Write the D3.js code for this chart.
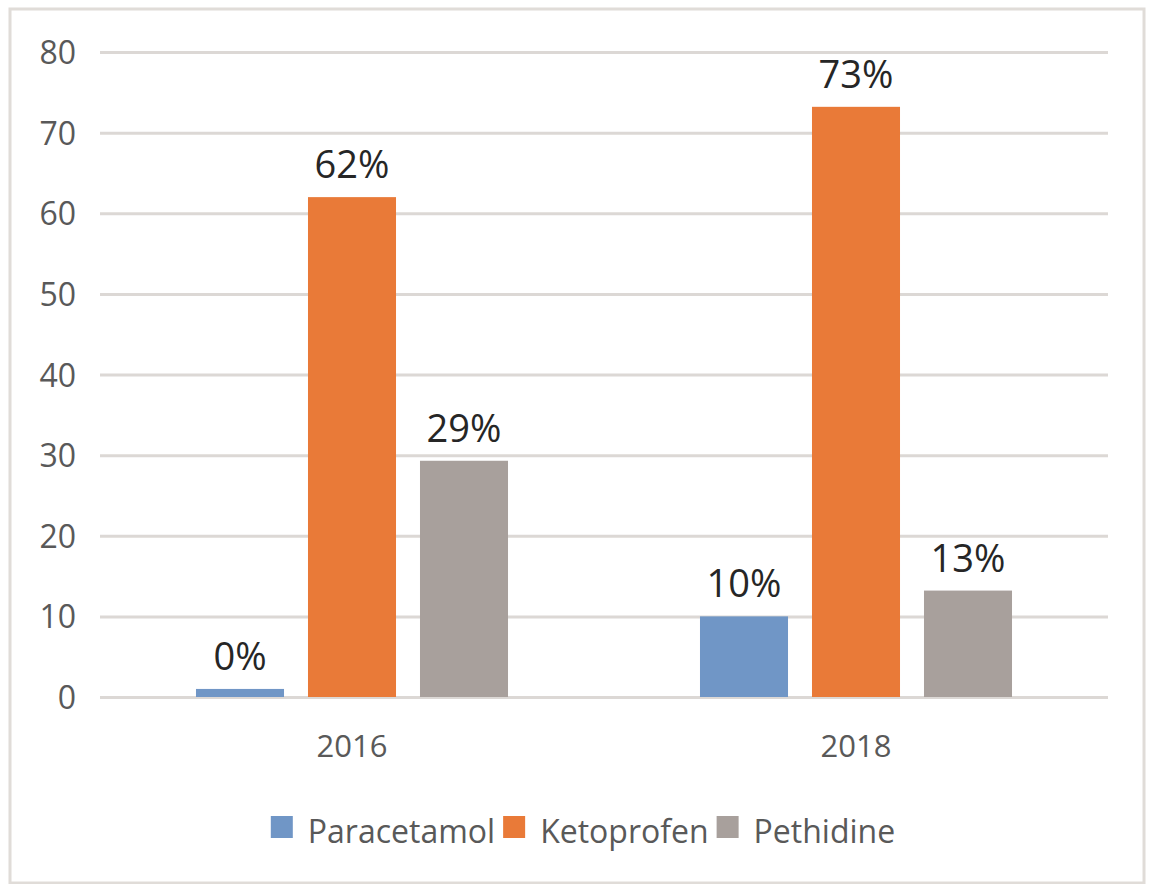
<!DOCTYPE html>
<html>
<head>
<meta charset="utf-8">
<script src="https://cdn.jsdelivr.net/npm/d3@7"></script>
<style>
  html, body { margin: 0; padding: 0; background: #fff; }
  svg { display: block; }
  text { font-family: "Open Sans", "DejaVu Sans", sans-serif; }
</style>
</head>
<body>
<svg id="chart" width="1150" height="884"></svg>
<script>
const categories = ["2016", "2018"];
const seriesNames = ["Paracetamol", "Ketoprofen", "Pethidine"];
const paracetamol = [1, 10];
const ketoprofen = [62, 73.2];
const pethidine = [29.3, 13.2];
const valueLabels = [["0%", "62%", "29%"], ["10%", "73%", "13%"]];
const yTicks = [0, 10, 20, 30, 40, 50, 60, 70, 80];
const colors = ["#7096C6", "#E97A38", "#A8A09C"];

const seriesValues = [paracetamol, ketoprofen, pethidine];

const svg = d3.select("#chart");

// outer frame
svg.append("rect")
  .attr("x", 10).attr("y", 9).attr("width", 1134).attr("height", 874)
  .attr("fill", "#fff").attr("stroke", "#e0dcd8").attr("stroke-width", 3);

const plotLeft = 100, plotRight = 1108, plotTop = 52, plotBottom = 697;

const y = d3.scaleLinear().domain([0, 80]).range([plotBottom, plotTop]);
const x0 = d3.scaleBand().domain(categories).range([plotLeft, plotRight]).paddingInner(0).paddingOuter(0);
const x1 = d3.scaleBand().domain(seriesNames).range([0, x0.bandwidth()]).paddingInner(0.214).paddingOuter(0.857);

// gridlines
const yAxis = d3.axisLeft(y).tickValues(yTicks).tickSize(-(plotRight - plotLeft)).tickFormat(d => d);
const gy = svg.append("g").attr("transform", `translate(${plotLeft},0)`).call(yAxis);
gy.select(".domain").remove();
gy.selectAll(".tick line").attr("stroke", "#dcd8d5").attr("stroke-width", 3);
gy.selectAll(".tick text")
  .attr("x", -24)
  .attr("dy", "0.36em")
  .attr("fill", "#595959")
  .style("font-size", "32px")
  .style("font-family", "'Open Sans', sans-serif");

// bars
const groups = svg.append("g").selectAll("g")
  .data(categories)
  .join("g")
  .attr("transform", d => `translate(${x0(d)},0)`);

groups.selectAll("rect")
  .data((d, i) => seriesNames.map((s, j) => ({ s, v: seriesValues[j][i], label: valueLabels[i][j], color: colors[j] })))
  .join("rect")
  .attr("x", d => x1(d.s))
  .attr("y", d => y(d.v))
  .attr("width", x1.bandwidth())
  .attr("height", d => y(0) - y(d.v))
  .attr("fill", d => d.color);

groups.selectAll("text.vl")
  .data((d, i) => seriesNames.map((s, j) => ({ s, v: seriesValues[j][i], label: valueLabels[i][j] })))
  .join("text")
  .attr("class", "vl")
  .attr("x", d => x1(d.s) + x1.bandwidth() / 2)
  .attr("y", d => y(d.v) - 19)
  .attr("text-anchor", "middle")
  .attr("fill", "#262626")
  .style("font-size", "38px")
  .text(d => d.label);

// category labels
const xAxis = d3.axisBottom(x0).tickSize(0);
const gx = svg.append("g").attr("transform", `translate(0,${plotBottom})`).call(xAxis);
gx.select(".domain").remove();
gx.selectAll(".tick text")
  .attr("y", 60)
  .attr("dy", 0)
  .attr("fill", "#595959")
  .style("font-size", "31px")
  .style("font-family", "'Open Sans', sans-serif");

// legend
const legend = svg.append("g");
const legendY = 816, sq = 22, gapText = 15, gapItem = 8;
const items = [];
seriesNames.forEach((s, i) => {
  const g = legend.append("g");
  g.append("rect").attr("x", 0).attr("y", legendY).attr("width", sq).attr("height", sq).attr("fill", colors[i]);
  const t = g.append("text").attr("x", sq + gapText).attr("y", legendY + 27)
    .attr("fill", "#595959").style("font-size", "32px").text(s);
  const w = sq + gapText + t.node().getComputedTextLength();
  items.push({ g, w });
});
const total = d3.sum(items, d => d.w) + gapItem * (items.length - 1);
let start = 583 - total / 2;
items.forEach(it => {
  it.g.attr("transform", `translate(${start},0)`);
  start += it.w + gapItem;
});
</script>
</body>
</html>
